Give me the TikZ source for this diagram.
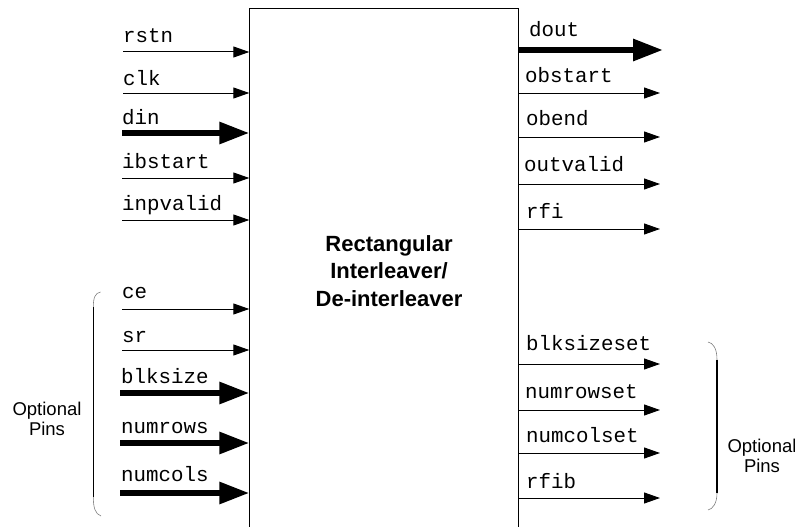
\documentclass[tikz,border=0pt]{standalone}
\usepackage{fontspec}
\setmainfont{Liberation Sans}
\newfontfamily\pinfont{Liberation Mono}
\usetikzlibrary{arrows.meta}
\begin{document}
\begin{tikzpicture}[x=1pt,y=-1pt,
  thinpin/.style={line width=1pt, -{Triangle[length=16pt,width=11pt]}},
  thickpin/.style={line width=6pt, -{Triangle[length=30pt,width=21pt]}},
  pinlabel/.style={font=\pinfont\fontsize{20.8}{22}\selectfont, inner sep=0pt, anchor=base west},
  opt/.style={font=\fontsize{18.5}{20}\selectfont, align=center, inner sep=0pt},
  curl/.style={gray, line width=0.6pt},
  bar/.style={line width=1.1pt}
]
\useasboundingbox (0,0) rectangle (795,527);
\clip (0,0) rectangle (795,527);
% block (open at the bottom edge of the picture)
\node[draw, line width=1pt, minimum width=269pt, minimum height=600pt, anchor=north west, inner sep=0pt] (box) at (249.3,8) {};
\node[font=\bfseries\fontsize{22}{27.5}\selectfont, align=center, inner sep=0pt] (title) at (389,271) {Rectangular\\Interleaver/\\De-interleaver};

% left inputs
\coordinate (rstn-s) at (123,52);
\coordinate (clk-s) at (123,93);
\coordinate (din-s) at (122,133);
\coordinate (ibstart-s) at (122,178);
\coordinate (inpvalid-s) at (122,220);
\coordinate (ce-s) at (122,309);
\coordinate (sr-s) at (122,350);
\coordinate (blksize-s) at (120,393);
\coordinate (numrows-s) at (120,443);
\coordinate (numcols-s) at (120,493);

\node[pinlabel] (rstn) at (123,43) {rstn};
\node[pinlabel] (clk) at (123,85) {clk};
\node[pinlabel] (din) at (122,124) {din};
\node[pinlabel] (ibstart) at (122,168) {ibstart};
\node[pinlabel] (inpvalid) at (122,210) {inpvalid};
\node[pinlabel] (ce) at (122,298) {ce};
\node[pinlabel] (sr) at (122,342) {sr};
\node[pinlabel] (blksize) at (121,383) {blksize};
\node[pinlabel] (numrows) at (121,433) {numrows};
\node[pinlabel] (numcols) at (121,481) {numcols};

\draw[thinpin] (rstn-s) -- (rstn-s -| box.west);
\draw[thinpin] (clk-s) -- (clk-s -| box.west);
\draw[thickpin] (din-s) -- (din-s -| box.west);
\draw[thinpin] (ibstart-s) -- (ibstart-s -| box.west);
\draw[thinpin] (inpvalid-s) -- (inpvalid-s -| box.west);
\draw[thinpin] (ce-s) -- (ce-s -| box.west);
\draw[thinpin] (sr-s) -- (sr-s -| box.west);
\draw[thickpin] (blksize-s) -- (blksize-s -| box.west);
\draw[thickpin] (numrows-s) -- (numrows-s -| box.west);
\draw[thickpin] (numcols-s) -- (numcols-s -| box.west);

% right outputs
\coordinate (dout-e) at (663,50);
\coordinate (obstart-e) at (660,93);
\coordinate (obend-e) at (660,137);
\coordinate (outvalid-e) at (660,184);
\coordinate (rfi-e) at (660,229);
\coordinate (blksizeset-e) at (660,364);
\coordinate (numrowset-e) at (660,410);
\coordinate (numcolset-e) at (660,453);
\coordinate (rfib-e) at (660,498);

\node[pinlabel] (dout) at (529,37) {dout};
\node[pinlabel] (obstart) at (525,82) {obstart};
\node[pinlabel] (obend) at (526,125) {obend};
\node[pinlabel] (outvalid) at (524,171) {outvalid};
\node[pinlabel] (rfi) at (526,218) {rfi};
\node[pinlabel] (blksizeset) at (526,350) {blksizeset};
\node[pinlabel] (numrowset) at (525,398) {numrowset};
\node[pinlabel] (numcolset) at (526,442) {numcolset};
\node[pinlabel] (rfib) at (526,488) {rfib};

\draw[thickpin] (dout-e -| box.east) -- (dout-e);
\draw[thinpin] (obstart-e -| box.east) -- (obstart-e);
\draw[thinpin] (obend-e -| box.east) -- (obend-e);
\draw[thinpin] (outvalid-e -| box.east) -- (outvalid-e);
\draw[thinpin] (rfi-e -| box.east) -- (rfi-e);
\draw[thinpin] (blksizeset-e -| box.east) -- (blksizeset-e);
\draw[thinpin] (numrowset-e -| box.east) -- (numrowset-e);
\draw[thinpin] (numcolset-e -| box.east) -- (numcolset-e);
\draw[thinpin] (rfib-e -| box.east) -- (rfib-e);

% left brace
\draw[curl] (100.5,292) .. controls (95,293) and (93.3,298) .. (93.3,307);
\draw[bar] (93.3,307) -- (93.3,497);
\draw[curl] (93.3,497) .. controls (93.3,507) and (95,514) .. (101,516);
\node[opt] (optL) at (47,419) {Optional\\Pins};

% right brace
\draw[curl] (708,342) .. controls (713,343) and (717,348) .. (717,360);
\draw[bar] (717,360) -- (717,493);
\draw[curl] (717,493) .. controls (717,503) and (713,509) .. (708,510);
\node[opt] (optR) at (762,456) {Optional\\Pins};
\end{tikzpicture}
\end{document}
